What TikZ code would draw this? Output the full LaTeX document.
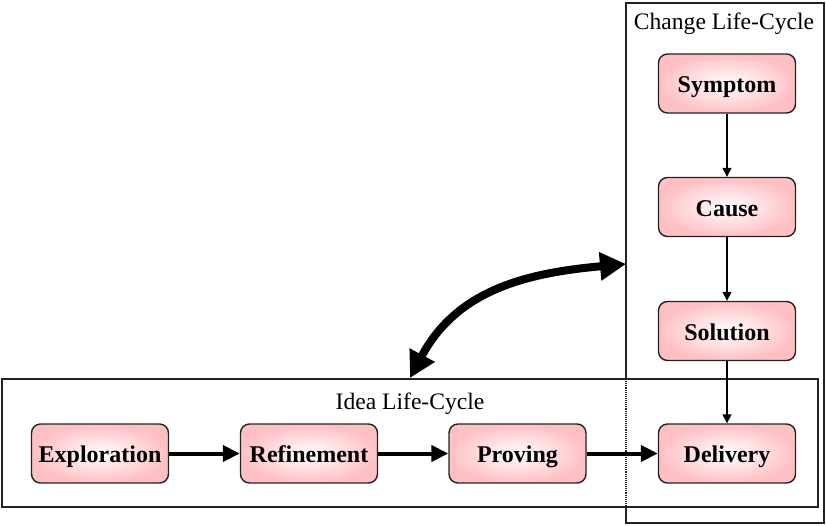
\documentclass[tikz,border=0pt]{standalone}
\usepackage{fontspec}
\setmainfont{Liberation Serif}
\usetikzlibrary{arrows.meta}
\definecolor{stagepink}{RGB}{255,192,196}
\definecolor{edgegray}{RGB}{34,34,34}
\tikzset{
  stage/.style={draw=edgegray, line width=1.4pt, rounded corners=9pt,
    inner color=white, outer color=stagepink,
    minimum width=137pt, minimum height=59pt, inner sep=0pt,
    text height=18pt, text depth=0pt,
    font=\fontsize{24}{28}\selectfont\bfseries},
  frame/.style={draw=edgegray, line width=1.3pt},
  caption/.style={font=\fontsize{23.6}{28}\selectfont, inner sep=0pt},
  flow/.style={line width=4pt, -{Triangle[length=17pt,width=16pt]}},
  step link/.style={line width=1.3pt, -{Triangle[length=9pt,width=9pt]}},
  bond/.style={line width=8pt, {Triangle[length=26pt,width=27pt]}-{Triangle[length=26pt,width=27pt]}}
}
\begin{document}
\begin{tikzpicture}[x=1pt,y=-1pt]
\useasboundingbox (0,0) rectangle (826,525);

% change life-cycle frame (left edge dotted where it crosses the idea frame)
\draw[frame] (626,379) -- (626,3) -- (824,3) -- (824,523) -- (626,523) -- (626,507);
\draw[draw=edgegray, line width=1.1pt, densely dotted] (626,379) -- (626,507);
\node[caption] (changetitle) at (724,24) {Change Life-Cycle};

% idea life-cycle frame
\draw[frame] (2,379) rectangle (818,507);
\node[caption] (ideatitle) at (410,404) {Idea Life-Cycle};

% stages
\node[stage] (symptom)  at (727,83.5) {Symptom};
\node[stage] (cause)    at (727,207)  {Cause};
\node[stage] (solution) at (727,331)  {Solution};
\node[stage] (delivery) at (727,453.5){Delivery};
\node[stage] (explore)  at (100,453.5){Exploration};
\node[stage] (refine)   at (309,453.5){Refinement};
\node[stage] (prove)    at (517.5,453.5){Proving};

% change flow
\draw[step link] (symptom) -- (cause);
\draw[step link] (cause) -- (solution);
\draw[step link] (solution) -- (delivery);

% idea flow
\draw[flow] (explore) -- (refine);
\draw[flow] (refine) -- (prove);
\draw[flow] (prove) -- (delivery);

% link between the two life-cycles
\coordinate (ideatip) at (410,378);
\coordinate (changetip) at (626,264);
\draw[bond] (ideatip) .. controls (457,290) and (526,273) .. (changetip);
\end{tikzpicture}
\end{document}
